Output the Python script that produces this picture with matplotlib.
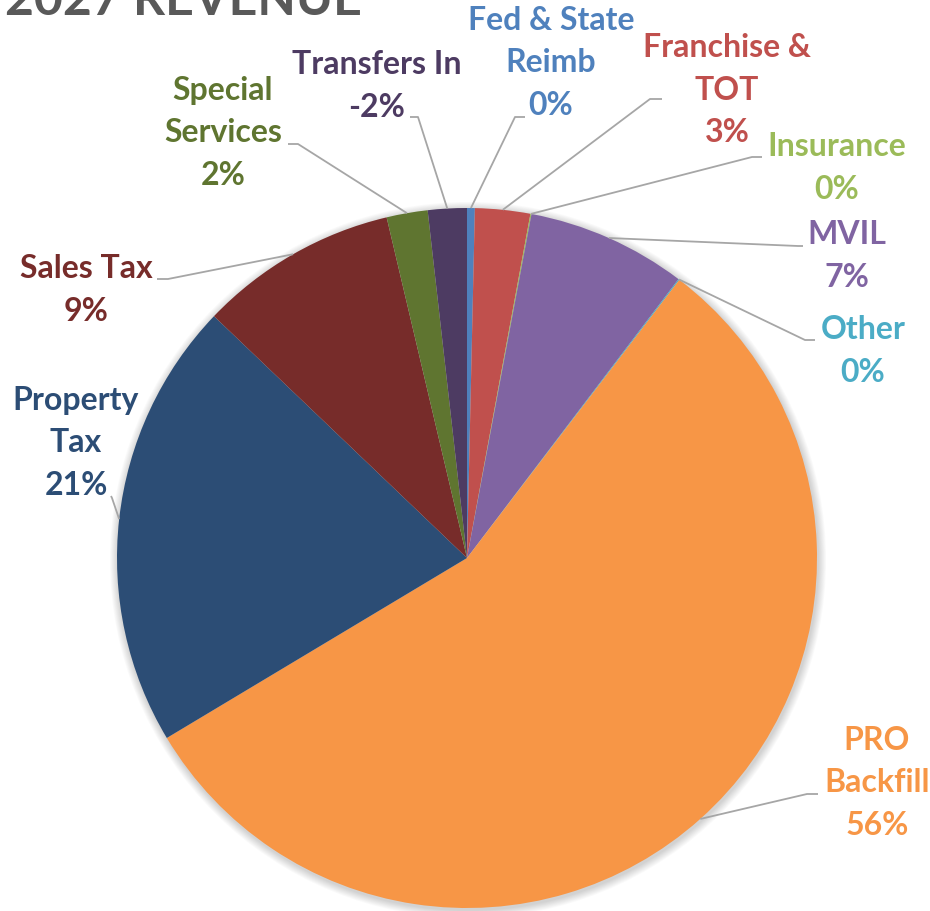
import numpy as np
import matplotlib.pyplot as plt
from matplotlib.patches import Circle

plt.rcParams['font.family'] = ['Lato', 'DejaVu Sans']

# Данные (доли в %, Transfers In отрицательный)
categories = ['Fed & State\nReimb', 'Franchise &\nTOT', 'Insurance', 'MVIL', 'Other',
              'PRO\nBackfill', 'Property\nTax', 'Sales Tax', 'Special\nServices', 'Transfers In']
values = [0.36, 2.55, 0.05, 7.4, 0.05, 56.2, 20.8, 9.2, 1.9, -1.8]
colors = ['#4F81BD', '#C0504D', '#9BBB59', '#8064A2', '#4BACC6',
          '#F79646', '#2C4D75', '#772C2A', '#5F7530', '#4D3B62']

# Положение подписей (пиксели от верхнего левого угла)
label_xy = [(551, 63), (727, 90), (837, 168), (847, 256), (863, 351),
            (877, 783), (76, 443), (86, 290), (223, 133), (377, 86)]
line_end = [(525, 117), (662, 99), (762, 157), (803, 246), (815, 340),
            (818, 794), (111, 496), (157, 279), (288, 144), (410, 117)]
line_elbow = [(515, 117), (650, 99), (752, 157), (798, 246), (805, 340),
              (807, 794), (112, 498), (168, 279), (298, 144), (418, 117)]

W, H = 930, 911
cx, cy, R = 467, H - 558, 350

fig = plt.figure(figsize=(9.3, 9.11), dpi=100)
ax = fig.add_axes([0, 0, 1, 1])

# мягкая тень вокруг круга
for k in range(1, 10):
    ax.add_patch(Circle((cx + 1, cy - 2), R + k * 0.9, color='black',
                        alpha=0.018, lw=0, zorder=0))

sizes = np.abs(values)
wedges, _ = ax.pie(sizes, colors=colors, startangle=90, counterclock=False,
                   center=(cx, cy), radius=R, frame=True,
                   wedgeprops=dict(linewidth=0, zorder=2))

total = sizes.sum()
pct = [v / total * 100 for v in values]

for w, name, p, col, (lx, ly), (tx, ty), (ex, ey) in zip(
        wedges, categories, pct, colors, label_xy, line_end, line_elbow):
    mid = np.deg2rad((w.theta1 + w.theta2) / 2)
    px, py = cx + R * np.cos(mid), cy + R * np.sin(mid)
    ax.plot([px, ex, tx], [py, H - ey, H - ty], color='#A6A6A6', lw=1.3,
            zorder=3, solid_capstyle='butt')
    ax.text(lx, H - ly, f'{name}\n{p:.0f}%', color=col, fontsize=23,
            fontweight='bold', ha='center', va='center', linespacing=1.56)

ax.text(5, H - 15, '2027 REVENUE', color='#595959', fontsize=36,
        fontweight='bold', ha='left', va='baseline')

ax.set_xlim(0, W)
ax.set_ylim(0, H)
ax.set_aspect('equal')
ax.axis('off')

fig.savefig('out.png', dpi=100, facecolor='white')
